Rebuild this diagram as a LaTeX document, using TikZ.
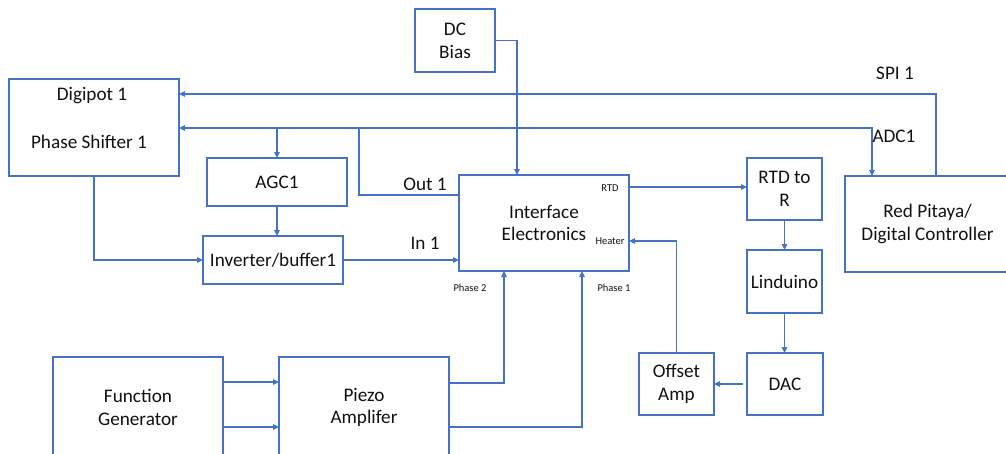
\documentclass[tikz,border=0pt]{standalone}
\usepackage{fontspec}
\setmainfont{Carlito}
\usetikzlibrary{arrows.meta,calc}
\definecolor{bl}{HTML}{4472C4}
\definecolor{tx}{HTML}{111111}
\tikzset{
  box/.style={draw=bl, line width=1.1pt, inner sep=0pt, outer sep=0pt, align=center, text=tx,
              font=\fontsize{19.2}{22.8}\selectfont},
  arr/.style={draw=bl, line width=1.1pt, -{Triangle[length=6pt,width=5.5pt]}},
  ln/.style={draw=bl, line width=1.1pt},
  lbl/.style={text=tx, inner sep=0pt, font=\fontsize{19.2}{22.8}\selectfont},
  sml/.style={text=tx, inner sep=0pt, font=\fontsize{10.5}{12}\selectfont},
}
\newcommand\mybox[6]{\node[box, minimum width={#4-#2}, minimum height={#5-#3}] (#1) at ({(#2+#4)/2},{(#3+#5)/2}) {#6};}
\begin{document}
\begin{tikzpicture}[x=1pt,y=-1pt]
\useasboundingbox (0,0) rectangle (1006,453);
\clip (0,0) rectangle (1006,453);
% boxes
\mybox{dc}{415}{9}{495}{72}{DC\\Bias}
\mybox{dig}{9}{79}{179}{176}{}
\node[lbl] (digA) at (92,96) {Digipot 1};
\node[lbl] (digB) at (89,142) {Phase Shifter 1};
\mybox{agc}{207}{158}{347}{206}{AGC1}
\mybox{inv}{203}{236}{343}{284}{Inverter/buffer1}
\mybox{ie}{459}{175}{629}{271}{Interface\\Electronics}
\mybox{rtd}{747}{158}{822}{220}{RTD to\\R}
\mybox{rp}{845}{176}{1010}{272}{Red Pitaya/\\Digital Controller}
\mybox{lin}{747}{250}{822}{313}{Linduino}
\mybox{dac}{747}{353}{823}{415}{DAC}
\mybox{oa}{639}{353}{714}{415}{Offset\\Amp}
\mybox{fg}{53}{357}{223}{458}{Function\\Generator}
\mybox{pz}{279}{357}{449}{458}{Piezo\\Amplifer}
% coordinates
\coordinate (spiC) at (936,94);
\coordinate (adcC) at (872,128);
\coordinate (o1) at (359,195);
\coordinate (dcC) at (517,41);
\coordinate (rtdC) at (700,187);
\coordinate (htC) at (677,241);
\coordinate (p2) at (504,383);
\coordinate (p1) at (582,427);
\coordinate (fa) at (250,382);
\coordinate (fb) at (250,427);
% connectors
\draw[arr] (rp.north -| spiC) |- (dig.east |- spiC);
\draw[ln] (ie.west |- o1) -- (o1) -- (o1 |- adcC);
\draw[arr] (adcC) -- (dig.east |- adcC);
\draw[arr] (o1 |- adcC) -- (adcC) -- (rp.north -| adcC);
\draw[arr] (agc.north |- adcC) -- (agc.north);
\draw[arr] (dig.south) |- (inv.west);
\draw[arr] (agc.south) -- (agc.south |- inv.north);
\draw[arr] (inv.east) -- (inv.east -| ie.west);
\draw[arr] (dc.east) -| (dcC |- ie.north);
\draw[arr] (ie.east |- rtdC) -- (rtd.west |- rtdC);
\draw[arr] (oa.north) |- (ie.east |- htC);
\draw[arr] (rtd.south) -- (rtd.south |- lin.north);
\draw[arr] (lin.south) -- (lin.south |- dac.north);
\draw[arr, shorten <=4pt] (dac.west) -- (oa.east);
\draw[arr] (pz.east |- p2) -| (p2 |- ie.south);
\draw[arr] (pz.east |- p1) -| (p1 |- ie.south);
\draw[arr] (fg.east |- fa) -- (pz.west |- fa);
\draw[arr] (fg.east |- fb) -- (pz.west |- fb);
% labels
\node[lbl] (spiL) at (895,73) {SPI 1};
\node[lbl] (adcL) at (894,136) {ADC1};
\node[lbl] (outL) at (425,184) {Out 1};
\node[lbl] (inL) at (425,243) {In 1};
\node[sml] (rtdL) at (610,188) {RTD};
\node[sml] (htL) at (610,241) {Heater};
\node[sml] (p2L) at (470,288) {Phase 2};
\node[sml] (p1L) at (614,288) {Phase 1};
\end{tikzpicture}
\end{document}
